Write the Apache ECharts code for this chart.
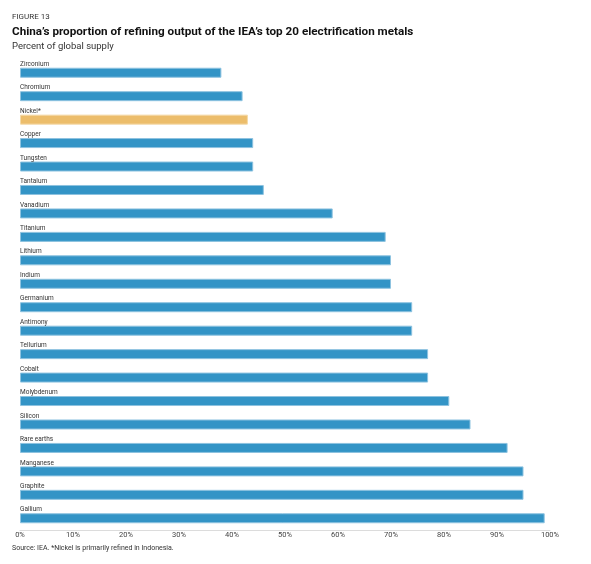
<!DOCTYPE html>
<html>
<head>
<meta charset="utf-8">
<script src="https://cdn.jsdelivr.net/npm/echarts@6/dist/echarts.min.js"></script>
<style>
  html, body { margin: 0; padding: 0; background: #fff; }
  #chart { width: 591px; height: 564px; }
</style>
</head>
<body>
<div id="chart"></div>
<script>
// metals, top to bottom as in the figure
var metals = ['Zirconium', 'Chromium', 'Nickel*', 'Copper', 'Tungsten', 'Tantalum', 'Vanadium',
  'Titanium', 'Lithium', 'Indium', 'Germanium', 'Antimony', 'Tellurium', 'Cobalt',
  'Molybdenum', 'Silicon', 'Rare earths', 'Manganese', 'Graphite', 'Gallium'];
// China's share of refining output, percent
var shares = [38, 42, 43, 44, 44, 46, 59, 69, 70, 70, 74, 74, 77, 77, 81, 85, 92, 95, 95, 99];
var highlight = 'Nickel*';

var blue = '#3394c6';
var gold = '#ecbd6b';

var chart = echarts.init(document.getElementById('chart'));

var barData = shares.map(function (v, i) {
  var isHi = metals[i] === highlight;
  return {
    value: v,
    itemStyle: {
      color: isHi ? gold : blue,
      borderColor: isHi ? '#f4d9a6' : '#8ec3e0',
      borderWidth: 1
    }
  };
});

chart.setOption({
  animation: false,
  textStyle: { fontFamily: 'Roboto' },
  title: [
    { text: 'FIGURE 13', left: 7, top: 8,
      textStyle: { fontSize: 8, fontWeight: 'normal', color: '#333' } },
    { text: 'China\u2019s proportion of refining output of the IEA\u2019s top 20 electrification metals',
      left: 7, top: 21,
      textStyle: { fontSize: 11.7, fontWeight: 'bold', color: '#111' } },
    { text: 'Percent of global supply', left: 7, top: 37,
      textStyle: { fontSize: 9.5, fontWeight: 'normal', color: '#333' } },
    { text: 'Source: IEA. *Nickel is primarily refined in Indonesia.', left: 7, top: 540,
      textStyle: { fontSize: 7, fontWeight: 'normal', color: '#333' } }
  ],
  grid: { left: 20, right: 41, top: 61, bottom: 34 },
  xAxis: {
    type: 'value',
    min: 0,
    max: 100,
    interval: 10,
    axisLine: { show: true, lineStyle: { color: '#dcdcdc', width: 1 } },
    axisTick: { show: false },
    splitLine: { show: false },
    axisLabel: { formatter: '{value}%', fontSize: 7.5, color: '#444', margin: 1 }
  },
  yAxis: {
    type: 'category',
    inverse: true,
    data: metals,
    axisLine: { show: false },
    axisTick: { show: false },
    axisLabel: { show: false }
  },
  series: [{
    type: 'bar',
    data: barData,
    barWidth: 10,
    label: {
      show: true,
      position: [0, 0],
      verticalAlign: 'bottom',
      formatter: '{b}',
      fontSize: 6.5,
      color: '#333'
    }
  }]
});
</script>
</body>
</html>
